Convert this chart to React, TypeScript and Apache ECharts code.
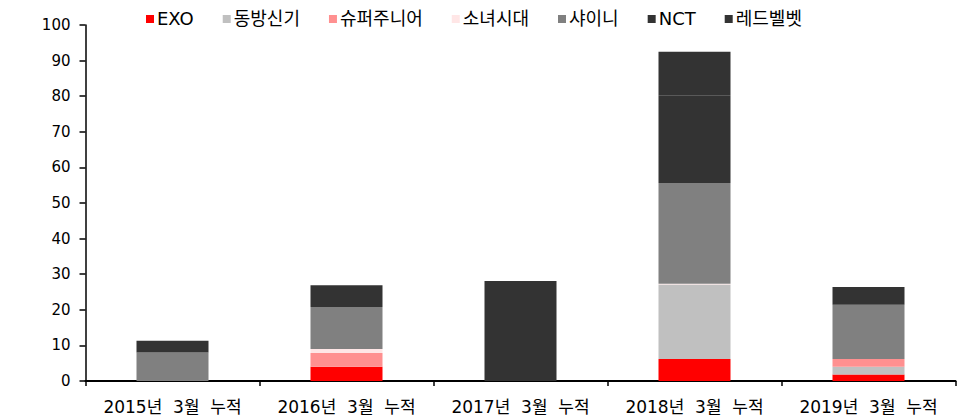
import React, { useEffect, useRef } from "react";
import * as echarts from "echarts";

const categories = ["2015년  3월  누적", "2016년  3월  누적", "2017년  3월  누적", "2018년  3월  누적", "2019년  3월  누적"];
const seriesNames = ["EXO", "동방신기", "슈퍼주니어", "소녀시대", "샤이니", "NCT", "레드벨벳"];
const exo = [0, 4.0, 0, 6.2, 1.8];
const tvxq = [0, 0, 0, 20.9, 2.2];
const superJunior = [0, 3.9, 0, 0, 2.2];
const girlsGeneration = [0, 1.1, 0, 0.2, 0];
const shinee = [8.0, 11.8, 0, 28.3, 15.2];
const nct = [0, 0, 19.4, 24.5, 5.0];
const redVelvet = [3.3, 6.1, 8.7, 12.4, 0];
const seriesValues = [exo, tvxq, superJunior, girlsGeneration, shinee, nct, redVelvet];
const colors = ["#FF0000", "#C0C0C0", "#FF9090", "#FFE6E6", "#808080", "#333333", "#333333"];
const yTicks = { min: 0, max: 100, interval: 10 };

const FONT = "'DejaVu Sans', 'Noto Sans CJK KR', sans-serif";

export default function App() {
  const ref = useRef<HTMLDivElement>(null);
  useEffect(() => {
    if (!ref.current) return;
    const chart = echarts.init(ref.current, null, { renderer: "svg" });
    chart.setOption({
      animation: false,
      legend: {
        top: 10,
        left: 146,
        padding: 0,
        itemWidth: 8,
        itemHeight: 8,
        itemGap: 29,
        icon: "rect",
        textStyle: { fontFamily: FONT, fontSize: 18, color: "#000", padding: [0, 0, 0, -2] },
        data: seriesNames,
      },
      grid: { left: 85.5, right: 1.5, top: 25, bottom: 38 },
      xAxis: {
        type: "category",
        data: categories,
        axisLine: { lineStyle: { color: "#000", width: 2 } },
        axisTick: { show: true, interval: 0, length: 5, lineStyle: { color: "#000", width: 1.5 } },
        axisLabel: { interval: 0, fontFamily: FONT, fontSize: 17, color: "#000", margin: 17 },
      },
      yAxis: {
        type: "value",
        min: yTicks.min,
        max: yTicks.max,
        interval: yTicks.interval,
        splitLine: { show: false },
        axisLine: { show: true, lineStyle: { color: "#000", width: 1.5 } },
        axisTick: { show: true, length: 6, lineStyle: { color: "#000", width: 1.5 } },
        axisLabel: { fontFamily: FONT, fontSize: 15, color: "#000", margin: 15 },
      },
      series: seriesNames.map((name, i) => ({
        name,
        type: "bar",
        stack: "total",
        barWidth: 72,
        data: seriesValues[i],
        itemStyle: { color: colors[i] },
      })),
    });
    return () => chart.dispose();
  }, []);
  return <div ref={ref} style={{ width: 957, height: 419, position: "absolute", left: 0, top: 0 }} />;
}
